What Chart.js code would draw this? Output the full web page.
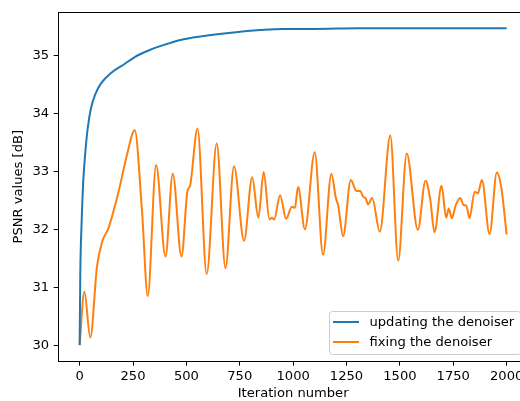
<!DOCTYPE html>
<html>
<head>
<meta charset="utf-8">
<script src="https://cdn.jsdelivr.net/npm/chart.js@4"></script>
<style>
    body { margin: 0; overflow: hidden; background: #fff; }
    #wrap { width: 528px; height: 401px; }
</style>
</head>
<body>
<div id="wrap"><canvas id="psnrChart" width="528" height="401"></canvas></div>
<script>
//data section
const xTicks = [0, 250, 500, 750, 1000, 1250, 1500, 1750, 2000];
const yTicks = [30, 31, 32, 33, 34, 35];

//updating the denoiser
const updIters = [0, 3, 9, 17, 27, 38, 53, 72, 100, 147, 209, 256, 331, 409, 472, 565, 721, 846, 950, 1100, 1300, 1500, 1700, 1900, 2000];
const updVals = [30.0, 31.23, 32.09, 32.84, 33.35, 33.75, 34.09, 34.32, 34.52, 34.70, 34.85, 34.97, 35.10, 35.20, 35.27, 35.33, 35.40, 35.44, 35.46, 35.46, 35.47, 35.47, 35.47, 35.47, 35.47];

//fixing the denoiser
const fixIters = [0, 22, 50, 81, 105, 136, 183, 222, 258, 292, 319, 358, 402, 436, 477, 505, 517, 552, 595, 642,
    683, 723, 770, 808, 837, 862, 889, 900, 911, 939, 967, 994, 1008, 1023, 1055, 1101, 1140, 1179, 1200, 1211,
    1234, 1270, 1297, 1315, 1328, 1339, 1351, 1370, 1406, 1455, 1492, 1532, 1584, 1620, 1642, 1662, 1695, 1717, 1729, 1743,
    1761, 1783, 1798, 1811, 1826, 1850, 1865, 1884, 1920, 1954, 1975, 2000];
const fixVals = [30.0, 30.92, 30.13, 31.35, 31.78, 32.03, 32.66, 33.29, 33.71, 32.32, 30.85, 33.11, 31.53, 32.96, 31.53, 32.66, 32.75, 33.74, 31.23, 33.48,
    31.33, 33.09, 31.80, 32.90, 32.20, 32.99, 32.17, 32.20, 32.17, 32.59, 32.18, 32.39, 32.37, 32.73, 32.00, 33.33, 31.56, 32.96, 32.54, 32.41,
    31.88, 32.85, 32.66, 32.66, 32.56, 32.54, 32.43, 32.54, 31.96, 33.62, 31.46, 33.31, 31.99, 32.84, 32.52, 31.95, 32.75, 32.20, 32.36, 32.19,
    32.41, 32.54, 32.42, 32.41, 32.19, 32.65, 32.62, 32.85, 31.92, 32.98, 32.72, 31.91];

const toPoints = (xs, ys) => xs.map((x, i) => ({ x: x, y: ys[i] }));

const fontFamily = '"DejaVu Sans", sans-serif';
const fontSize = 13.1;

//frame round the axes + legend box like matplotlib
const framePlugin = {
    id: 'frame',
    afterDraw(chart) {
        const ctx = chart.ctx;
        const a = chart.chartArea;
        ctx.save();
        ctx.strokeStyle = '#000';
        ctx.lineWidth = 1;
        ctx.beginPath();
        ctx.moveTo(Math.round(a.left), Math.round(a.top) + 0.5);
        ctx.lineTo(Math.round(a.right), Math.round(a.top) + 0.5);
        ctx.stroke();

        // legend, lower right
        const bx = 329, by = 311, bw = 191.4, bh = 43;
        ctx.beginPath();
        ctx.roundRect(bx + 0.5, by + 0.5, bw, bh, 3);
        ctx.fillStyle = 'rgba(255,255,255,0.8)';
        ctx.fill();
        ctx.strokeStyle = '#cccccc';
        ctx.stroke();
        ctx.font = fontSize + 'px ' + fontFamily;
        ctx.textBaseline = 'middle';
        chart.data.datasets.forEach((ds, i) => {
            const y = 322 + i * 20;
            ctx.strokeStyle = ds.borderColor;
            ctx.lineWidth = 2;
            ctx.beginPath();
            ctx.moveTo(333, y);
            ctx.lineTo(359, y);
            ctx.stroke();
            ctx.fillStyle = '#000';
            ctx.fillText(ds.label, 369.5, y + 0.5);
        });
        ctx.restore();
    }
};

const psnrGraph = () => {
    var ctx = document.getElementById('psnrChart').getContext('2d');
    var chart = new Chart(ctx, {
        type: 'line',
        data: {
            datasets: [{
                label: 'updating the denoiser',
                borderColor: '#1f77b4',
                borderWidth: 2,
                pointRadius: 0,
                cubicInterpolationMode: 'monotone',
                data: toPoints(updIters, updVals)
            }, {
                label: 'fixing the denoiser',
                borderColor: '#ff7f0e',
                borderWidth: 2,
                pointRadius: 0,
                cubicInterpolationMode: 'monotone',
                data: toPoints(fixIters, fixVals)
            }]
        },
        options: {
            responsive: false,
            animation: false,
            devicePixelRatio: 1,
            layout: {
                padding: { left: 0, right: 0, top: 11, bottom: 0 }
            },
            plugins: {
                legend: { display: false },
                tooltip: { enabled: false }
            },
            scales: {
                x: {
                    type: 'linear',
                    min: -100,
                    max: 2100,
                    afterBuildTicks: (s) => { s.ticks = xTicks.map(v => ({ value: v })); },
                    afterFit: (s) => { s.height = 40; },
                    grid: { drawOnChartArea: false, drawTicks: true, tickLength: 4.6, color: '#000' },
                    border: { display: true, color: '#000', width: 1 },
                    ticks: { color: '#000', padding: 3, maxRotation: 0, callback: (v) => String(v), font: { family: fontFamily, size: fontSize } },
                    title: {
                        display: true,
                        text: 'Iteration number',
                        color: '#000',
                        padding: { top: 0, bottom: 0 },
                        font: { family: fontFamily, size: fontSize }
                    }
                },
                y: {
                    type: 'linear',
                    min: 29.726,
                    max: 35.744,
                    afterBuildTicks: (s) => { s.ticks = yTicks.map(v => ({ value: v })); },
                    afterFit: (s) => { s.width = 58.3; },
                    grid: { drawOnChartArea: false, drawTicks: true, tickLength: 4.6, color: '#000' },
                    border: { display: true, color: '#000', width: 1 },
                    ticks: { color: '#000', padding: 4.6, callback: (v) => String(v), font: { family: fontFamily, size: fontSize } },
                    title: {
                        display: true,
                        text: 'PSNR values [dB]',
                        color: '#000',
                        padding: { top: 11, bottom: 0 },
                        font: { family: fontFamily, size: fontSize }
                    }
                }
            }
        },
        plugins: [framePlugin]
    });
};

psnrGraph()
</script>
</body>
</html>
